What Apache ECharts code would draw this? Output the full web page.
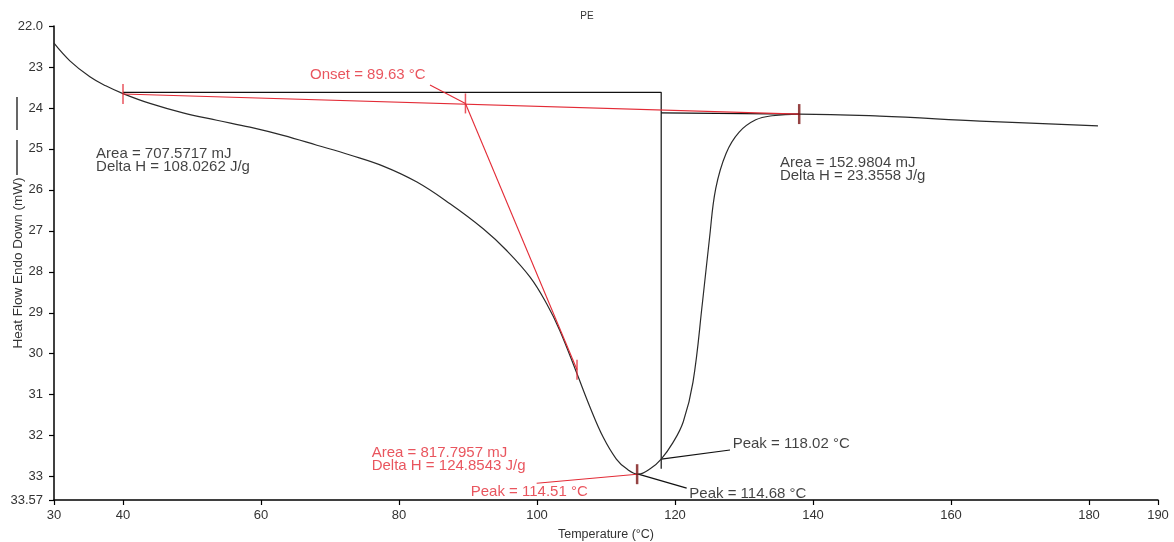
<!DOCTYPE html>
<html><head><meta charset="utf-8">
<script src="https://cdn.jsdelivr.net/npm/echarts@6/dist/echarts.min.js"></script>
<style>html,body{margin:0;padding:0;background:#fff}#c{width:1174px;height:542px}</style>
</head><body><div id="c"></div>
<script>
// DSC curve: temperature (°C) and heat flow (mW)
const curveT = [30, 32.3, 35.2, 37.5, 40, 43.9, 48.7, 53.6, 58.4, 63.2, 68.1, 72.9, 77.7, 82.6, 87.4, 92.2, 95.6, 99.0, 101.4, 103.3, 105.8, 107.7, 109.6, 111.5, 113.0, 114.7, 116.4, 118.0, 119.7, 121.2, 122.6, 124.0, 125.0, 125.9, 127.4, 129.3, 131.7, 134.1, 138.0, 149.7, 164.2, 181.3];
const curveV = [22.42, 22.85, 23.24, 23.46, 23.65, 23.89, 24.12, 24.30, 24.47, 24.67, 24.91, 25.15, 25.42, 25.81, 26.34, 26.95, 27.48, 28.13, 28.78, 29.43, 30.49, 31.31, 32.04, 32.57, 32.81, 32.94, 32.81, 32.57, 32.17, 31.66, 30.70, 28.72, 27.18, 25.97, 25.11, 24.59, 24.29, 24.19, 24.15, 24.20, 24.32, 24.44];

// axis ticks
const xTicks = [30, 40, 60, 80, 100, 120, 140, 160, 180, 190];
const yTicks = [22, 23, 24, 25, 26, 27, 28, 29, 30, 31, 32, 33, 33.57];
const yTickLabels = ['22.0', '23', '24', '25', '26', '27', '28', '29', '30', '31', '32', '33', '33.57'];

// analysis lines (data coordinates)
const redSegments = [
  [[40, 23.66], [138, 24.15]],          // baseline
  [[89.63, 23.89], [105.8, 30.39]],     // onset tangent
  [[84.49, 23.44], [89.63, 23.89]],     // onset leader
  [[114.51, 32.94], [99.95, 33.16]]     // peak leader
];
const blackSegments = [
  [[40, 23.62], [118, 23.62], [118, 32.81]], // partial area box
  [[118, 24.12], [138, 24.15]],
  [[114.68, 32.94], [121.69, 33.28]],
  [[118.02, 32.57], [127.97, 32.35]]
];
const redTicks = [[40, 23.66], [89.63, 23.89], [105.8, 30.39]];
const darkTicks = [[114.51, 32.94], [138, 24.15]];

// annotation texts: [T, mW, text]
const blackNotes = [
  [36.1, 25.29, 'Area = 707.5717 mJ\nDelta H = 108.0262 J/g'],
  [135.2, 25.50, 'Area = 152.9804 mJ\nDelta H = 23.3558 J/g'],
  [122.07, 33.43, 'Peak = 114.68 °C'],
  [128.36, 32.20, 'Peak = 118.02 °C']
];
const redNotes = [
  [67.1, 23.20, 'Onset = 89.63 °C'],
  [76.04, 32.57, 'Area = 817.7957 mJ\nDelta H = 124.8543 J/g'],
  [90.39, 33.36, 'Peak = 114.51 °C']
];

const RED = '#e32b36';
const FONT = 'Liberation Sans, Arial, sans-serif';

const series = [];
series.push({
  type: 'line', data: curveT.map((t, i) => [t, curveV[i]]),
  smooth: 0.4, symbol: 'none', lineStyle: {color: '#2a2a2a', width: 1.2}, z: 3
});
redSegments.forEach(s => series.push({
  type: 'line', data: s, symbol: 'none', lineStyle: {color: RED, width: 1.1}, z: 4
}));
blackSegments.forEach(s => series.push({
  type: 'line', data: s, symbol: 'none', lineStyle: {color: '#111', width: 1.2}, z: 2
}));
series.push({type: 'scatter', data: redTicks, symbol: 'rect', symbolSize: [1.5, 20], itemStyle: {color: RED}, z: 5});
series.push({type: 'scatter', data: darkTicks, symbol: 'rect', symbolSize: [2.5, 20], itemStyle: {color: '#7a1414'}, z: 5});
function noteSeries(notes, color) {
  return {
    type: 'scatter', symbolSize: 0, z: 6,
    data: notes.map(n => ({value: [n[0], n[1]], name: n[2]})),
    label: {
      show: true, position: [0, 0], align: 'left', verticalAlign: 'middle',
      formatter: p => p.name, color: color, fontSize: 15, lineHeight: 13, fontFamily: FONT
    }
  };
}
series.push(noteSeries(blackNotes, '#111'));
series.push(noteSeries(redNotes, RED));

const chart = echarts.init(document.getElementById('c'));
chart.setOption({
  animation: false,
  backgroundColor: '#fff',
  title: {text: 'PE', left: 'center', top: 6, textStyle: {fontSize: 10, fontWeight: 'normal', color: '#333', fontFamily: FONT}},
  grid: {left: 54, right: 16, top: 26, bottom: 42, containLabel: false, outerBoundsMode: 'none'},
  xAxis: {
    type: 'value', min: 30, max: 190,
    name: 'Temperature (°C)', nameLocation: 'middle', nameGap: 28, nameMoveOverlap: false,
    nameTextStyle: {fontSize: 12.5, color: '#333', fontFamily: FONT},
    axisLine: {lineStyle: {color: '#000', width: 1.5}},
    axisTick: {show: true, inside: false, length: 5, lineStyle: {color: '#000', width: 1.2}, customValues: xTicks},
    axisLabel: {customValues: xTicks, fontSize: 13, color: '#333', margin: 9, fontFamily: FONT},
    splitLine: {show: false}
  },
  yAxis: {
    type: 'value', min: 22, max: 33.57, inverse: true,
    name: 'Heat Flow Endo Down (mW)', nameLocation: 'middle', nameGap: 29, nameRotate: 90, nameMoveOverlap: false,
    nameTextStyle: {fontSize: 13.5, color: '#333', fontFamily: FONT},
    axisLine: {show: true, lineStyle: {color: '#000', width: 1.5}},
    axisTick: {show: true, inside: false, length: 5, lineStyle: {color: '#000', width: 1.2}, customValues: yTicks},
    axisLabel: {customValues: yTicks, fontSize: 13, color: '#333', margin: 11, fontFamily: FONT,
      formatter: v => { const i = yTicks.indexOf(v); return i >= 0 ? yTickLabels[i] : String(v); }},
    splitLine: {show: false}
  },
  graphic: [
    {type: 'line', shape: {x1: 17, y1: 97, x2: 17, y2: 130}, style: {stroke: '#000', lineWidth: 1.2}},
    {type: 'line', shape: {x1: 17, y1: 140, x2: 17, y2: 175}, style: {stroke: '#000', lineWidth: 1.2}}
  ],
  series: series
});
</script>
</body></html>
